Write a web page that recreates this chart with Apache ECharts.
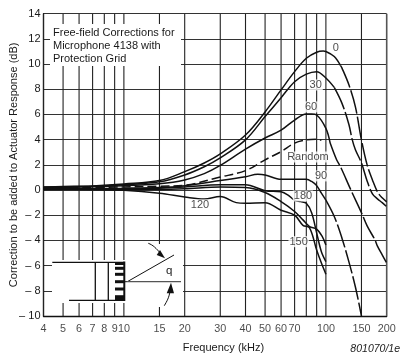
<!DOCTYPE html>
<html><head><meta charset="utf-8">
<style>html,body{margin:0;padding:0;background:#fff}#c{width:407px;height:360px}</style>
<script src="https://cdn.jsdelivr.net/npm/echarts@6/dist/echarts.min.js"></script>
</head><body><div id="c"></div>
<script>
const gridFreqs=[4,5,6,7,8,9,10,15,20,30,40,50,60,70,80,90,100,150,200];
const tickFreqs=[4,5,6,7,8,9,10,15,20,30,40,50,60,70,100,150,200];
const curve0=[[4,.25],[5,.28],[7,.33],[10,.48],[15,.75],[20,1.46],[25,2.15],[30,2.87],[40,4.37],[50,6.2],[60,7.95],[70,9.4],[80,10.46],[90,10.94],[97,11.03],[100,11],[110,10.6],[118,9.9]];
const curve0Tail=[[118,9.9],[120,9.7],[130,8.35],[140,6.6],[150,3.98],[160,2],[170,.8],[180,-.14],[190,-.62],[200,-.94]];
const curve30=[[4,.22],[7,.3],[10,.42],[15,.65],[20,1.2],[25,1.85],[30,2.55],[40,3.98],[50,5.83],[60,7.33],[70,8.6],[80,9.2],[90,9.4],[100,8.9],[110,8.15]];
const curve30Tail=[[110,8.15],[120,6.9],[130,5.2],[135,4],[140,3.2],[150,2.15],[160,.72],[170,-.3],[180,-.7],[190,-1],[200,-1.32]];
const curve60=[[4,.2],[10,.35],[15,.5],[20,.8],[25,1.3],[30,1.95],[40,3.25],[50,4.13],[60,4.75],[70,5.56],[80,6.04],[85,6.04],[90,5.96],[100,4.9],[105,3.73]];
const curve60Tail=[[105,3.73],[113,2.4],[118,1.86],[133,0],[150,-1.8],[160,-2.85],[175,-3.96],[180,-4.45],[190,-5.15],[200,-5.8]];
const curveRandom=[[4,.12],[10,.25],[15,.3],[20,.38],[30,1.03],[40,1.54],[50,2.4],[60,3.05],[70,3.73],[80,3.98],[90,4.03],[95,3.95]];
const curve90=[[4,.1],[10,.15],[15,.2],[20,.35],[30,.75],[40,1.06],[46,1.25],[50,1.2],[60,.85],[70,.85],[80,.85],[85,.68],[90,.35],[95,-.25],[100,-.8]];
const curve90Tail=[[100,-.8],[110,-2.1],[120,-3.8],[130,-5.7],[140,-7.7],[150,-10]];
const curve120=[[4,.05],[7,.03],[10,-.02],[15,-.25],[20,-.55],[25,-.72],[30,-.52],[36,-1],[40,-1.05],[50,-1],[60,-1.6],[70,-2],[77,-2.8],[83,-3],[90,-4.76],[95,-5.8],[100,-6.68]];
const curve150=[[4,.08],[10,.05],[15,.05],[20,.1],[30,.25],[40,.2],[50,-.2],[60,-.92],[70,-1.7],[77,-2.37],[83,-2.9],[90,-3.1],[96,-3.7],[100,-4.36]];
const curve180=[[4,.1],[10,.1],[15,.15],[20,.25],[30,.42],[40,.42],[50,-.05],[60,-.13],[65,-.4],[70,-.82],[75,-.92],[80,-1.05],[85,-1.8],[90,-3.4],[95,-4.9],[100,-5.68]];
const curveLabels=[['0',112,11.3],['30',89,8.34],['60',84.4,6.6],['Random',81.5,2.63],['90',94.6,1.12],['120',23.8,-1.18],['180',77,-.47],['150',73.3,-4.1]];
const note=['Free-field Corrections for','Microphone 4138 with','Protection Grid'];

const font='"Liberation Sans",Arial,sans-serif', ink='#1a1a1a', solid=[curve0,curve30,curve60,curve90,curve120,curve150,curve180], tails=[curve0Tail,curve30Tail,curve60Tail,curve90Tail];
const series=[];
gridFreqs.forEach(f=>series.push({type:'line',silent:true,z:1,symbol:'none',animation:false,data:[[f,-10],[f,14]],lineStyle:{color:f===200?'#555':'#222',width:f===200?1.6:1.1}}));
solid.forEach(d=>series.push({type:'line',z:4,symbol:'none',smooth:.35,animation:false,data:d,lineStyle:{color:'#111',width:1.5}}));
tails.forEach(d=>series.push({type:'line',z:4,symbol:'none',smooth:.35,animation:false,data:d,lineStyle:{color:'#111',width:1.5,type:[24,3]}}));
series.push({type:'line',z:4,symbol:'none',smooth:.35,animation:false,data:curveRandom,lineStyle:{color:'#111',width:1.5,type:[9,4]}});
series.push({type:'scatter',z:6,symbolSize:0,animation:false,silent:true,data:curveLabels.map(l=>({value:[l[1],l[2]],label:{formatter:l[0]}})),
 label:{show:true,position:'inside',color:ink,fontFamily:font,fontSize:11,backgroundColor:'#fff',padding:[0,1]}});
series.push({type:'scatter',z:6,symbolSize:0,animation:false,silent:true,data:tickFreqs.map(f=>[f,-10]),
 label:{show:true,position:'bottom',distance:7.5,formatter:p=>String(p.value[0]),color:ink,fontFamily:font,fontSize:10.8}});

const ln=(x1,y1,x2,y2,w,c)=>({type:'line',z:3,shape:{x1,y1,x2,y2},style:{stroke:c||'#111',lineWidth:w||1.3}});
const rect=(x,y,width,height)=>({type:'rect',z:2,shape:{x,y,width,height},style:{fill:'#fff'}});
const txt=(x,y,t,o)=>({type:'text',z:5,x,y,style:Object.assign({text:t,fill:ink,font:'11px '+font,textVerticalAlign:'middle'},o||{})});
const g=[rect(50,24,131,42),rect(52,260,131,43),rect(125,244,56,63)];
note.forEach((t,i)=>g.push(txt(53,33+i*13.2,t,{font:'11px '+font})));
g.push(ln(52.3,262.3,124.3,262.3),ln(69,300.3,124.3,300.3),ln(95.3,262.3,95.3,300.3),ln(108.3,262.3,108.3,300.3),ln(124.3,261.5,124.3,301,2));
[263.5,268.3,274.3,281.7,289,296.7,299.5].forEach(y=>g.push(ln(115,y,124,y,3)));
g.push(ln(124,281.7,127,281.7,1),ln(127.3,281.7,174,255,1),ln(127.3,281.7,181,281.7,1.3,'#555'));
g.push({type:'bezierCurve',z:3,shape:{x1:148.3,y1:243.3,cpx1:153,cpy1:245,cpx2:156,cpy2:248,x2:161,y2:254},style:{stroke:'#111',fill:null,lineWidth:1}});
g.push({type:'polygon',z:3,shape:{points:[[165,258.3],[160,250],[156.7,255]]},style:{fill:'#111'}});
g.push({type:'bezierCurve',z:3,shape:{x1:164.3,y1:305.7,cpx1:167,cpy1:301,cpx2:169,cpy2:298,x2:170.3,y2:290},style:{stroke:'#111',fill:null,lineWidth:1}});
g.push({type:'polygon',z:3,shape:{points:[[171,282.7],[166.7,293.3],[174,293.3]]},style:{fill:'#111'}});
g.push(txt(169.3,270.7,'q',{font:'11.5px '+font,textAlign:'center'}));
g.push(txt(223.5,347.5,'Frequency (kHz)',{font:'11px '+font,textAlign:'center'}));
g.push(txt(400,349,'801070/1e',{font:'italic 10.5px '+font,textAlign:'right'}));

const chart=echarts.init(document.getElementById('c'),null,{renderer:'canvas'});
chart.setOption({animation:false,backgroundColor:'#fff',
 grid:{left:43.5,top:13.7,width:343.2,height:302.3,containLabel:false,outerBoundsMode:'none'},
 xAxis:{type:'log',logBase:10,min:4,max:200,axisLabel:{show:false},axisTick:{show:false},splitLine:{show:false},minorSplitLine:{show:false},axisLine:{onZero:false,show:true,lineStyle:{color:'#111',width:1.3}}},
 yAxis:{type:'value',min:-10,max:14,interval:2,
  name:'Correction to be added to Actuator Response (dB)',nameLocation:'middle',nameGap:24,nameMoveOverlap:false,nameTextStyle:{color:ink,fontFamily:font,fontSize:11},
  axisLine:{onZero:false,show:true,lineStyle:{color:'#111',width:1.3}},axisTick:{show:false},
  axisLabel:{margin:3,color:ink,fontFamily:font,fontSize:11,formatter:v=>v<0?'\u2013 '+(-v):String(v)},
  splitLine:{show:true,lineStyle:{color:'#333',width:1.2}}},
 graphic:{elements:g},series});
</script></body></html>
